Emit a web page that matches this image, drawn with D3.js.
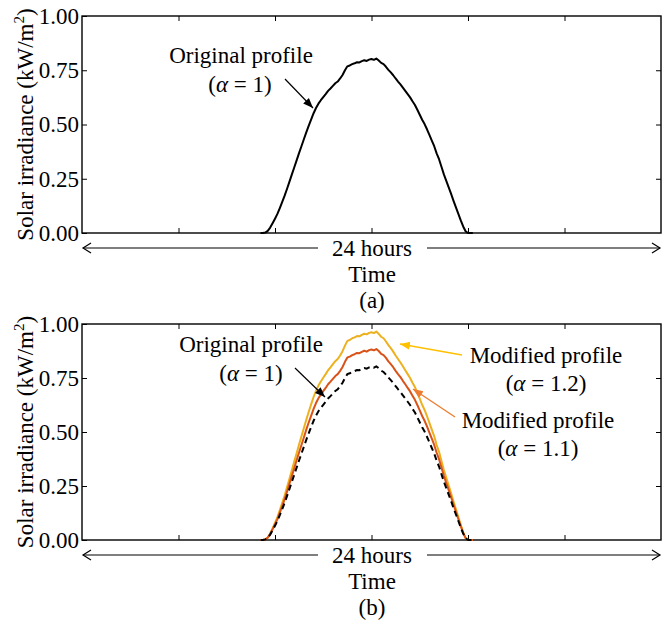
<!DOCTYPE html>
<html>
<head>
<meta charset="utf-8">
<script src="https://cdn.jsdelivr.net/npm/d3@7"></script>
<style>
  html, body { margin: 0; padding: 0; background: #fff; }
  svg text { font-family: "Liberation Serif", "Times New Roman", serif; fill: #000; }
</style>
</head>
<body>
<svg id="chart" width="667" height="620" font-family="Liberation Serif"></svg>
<script>
// ---------- DATA ----------
const hours = [7.4,7.5,7.6,7.7,7.8,7.9,8.0,8.1,8.2,8.3,8.4,8.5,8.6,8.7,8.8,8.9,9.0,9.1,9.2,9.3,
  9.4,9.5,9.6,9.7,9.8,9.9,10.0,10.1,10.2,10.3,10.4,10.5,10.6,10.7,10.8,10.9,11.0,11.1,11.2,11.3,
  11.4,11.5,11.6,11.7,11.8,11.9,12.0,12.1,12.2,12.3,12.4,12.5,12.6,12.7,12.8,12.9,13.0,13.1,13.2,13.3,
  13.4,13.5,13.6,13.7,13.8,13.9,14.0,14.1,14.2,14.3,14.4,14.5,14.6,14.7,14.8,14.9,15.0,15.1,15.2,15.3,
  15.4,15.5,15.6,15.7,15.8,15.9,16.0,16.1,16.2];

const original = [0,0,0.002,0.010,0.025,0.045,0.066,0.088,0.115,0.143,0.172,0.204,0.237,0.270,0.303,0.336,0.369,0.401,0.433,0.465,
  0.495,0.524,0.552,0.576,0.596,0.612,0.626,0.640,0.655,0.666,0.678,0.690,0.698,0.712,0.728,0.750,0.768,0.772,0.778,0.782,
  0.787,0.786,0.792,0.796,0.793,0.799,0.802,0.798,0.804,0.795,0.784,0.778,0.766,0.752,0.740,0.727,0.712,0.698,0.685,0.670,
  0.655,0.640,0.625,0.607,0.590,0.568,0.545,0.522,0.502,0.478,0.452,0.426,0.400,0.367,0.340,0.305,0.270,0.240,0.210,0.180,
  0.148,0.118,0.088,0.058,0.030,0.008,0,0,0];

const modified11 = [0,0,0.002,0.011,0.028,0.050,0.073,0.097,0.127,0.157,0.189,0.224,0.261,0.297,0.333,0.370,0.406,0.441,0.476,0.512,
  0.545,0.576,0.607,0.634,0.656,0.673,0.689,0.704,0.721,0.733,0.746,0.759,0.768,0.783,0.801,0.825,0.845,0.849,0.856,0.860,
  0.866,0.865,0.871,0.876,0.872,0.879,0.882,0.878,0.884,0.875,0.862,0.856,0.843,0.827,0.814,0.800,0.783,0.768,0.754,0.737,
  0.721,0.704,0.688,0.668,0.649,0.625,0.600,0.574,0.552,0.526,0.497,0.469,0.440,0.404,0.374,0.336,0.297,0.264,0.231,0.198,
  0.163,0.130,0.097,0.064,0.033,0.009,0,0,0];

const modified12 = [0,0,0.002,0.012,0.030,0.054,0.079,0.106,0.138,0.172,0.206,0.245,0.284,0.324,0.364,0.403,0.443,0.481,0.520,0.558,
  0.594,0.629,0.662,0.691,0.715,0.734,0.751,0.768,0.786,0.799,0.814,0.828,0.838,0.854,0.874,0.900,0.922,0.926,0.934,0.938,
  0.944,0.943,0.950,0.955,0.952,0.959,0.962,0.958,0.965,0.954,0.941,0.934,0.919,0.902,0.888,0.872,0.854,0.838,0.822,0.804,
  0.786,0.768,0.750,0.728,0.708,0.682,0.654,0.626,0.602,0.574,0.542,0.511,0.480,0.440,0.408,0.366,0.324,0.288,0.252,0.216,
  0.178,0.142,0.106,0.070,0.036,0.010,0,0,0];

const xTicks = [0,4,8,12,16,20,24];
const yTicks = [0,0.25,0.5,0.75,1.0];
const yTickLabels = ["0.00","0.25","0.50","0.75","1.00"];

// ---------- DRAW ----------
const svg = d3.select("#chart");
const FONT = 23;
const x = d3.scaleLinear().domain([0,24]).range([82,661]);

const defs = svg.append("defs");
function marker(id, color) {
  defs.append("marker").attr("id", id)
    .attr("viewBox","0 0 10 10").attr("refX",10).attr("refY",5)
    .attr("markerWidth",10).attr("markerHeight",10)
    .attr("markerUnits","userSpaceOnUse")
    .attr("orient","auto")
    .append("path").attr("d","M0,1 L10,5 L0,9 Z").attr("fill",color);
}
marker("ahBlack","#000");
marker("ahYellow","#FFC000");
marker("ahOrange","#ED7D31");

function panel(top, bottom, label) {
  const y = d3.scaleLinear().domain([0,1]).range([bottom, top]);
  const g = svg.append("g");

  // inward ticks
  g.append("g").attr("transform",`translate(0,${bottom})`)
    .call(d3.axisBottom(x).tickValues(xTicks.slice(1,-1)).tickSizeInner(-5).tickSizeOuter(0).tickFormat(""))
    .call(a => a.select(".domain").remove());
  g.append("g").attr("transform",`translate(0,${top})`)
    .call(d3.axisTop(x).tickValues(xTicks.slice(1,-1)).tickSizeInner(-5).tickSizeOuter(0).tickFormat(""))
    .call(a => a.select(".domain").remove());
  const yl = g.append("g").attr("transform",`translate(${x(0)},0)`)
    .call(d3.axisLeft(y).tickValues(yTicks).tickSizeInner(-5).tickSizeOuter(0).tickPadding(3)
      .tickFormat((d,i) => yTickLabels[i]))
    .call(a => a.select(".domain").remove());
  yl.attr("font-family","Liberation Serif");
  yl.selectAll("text").style("font-size", FONT + "px");
  g.append("g").attr("transform",`translate(${x(24)},0)`)
    .call(d3.axisRight(y).tickValues(yTicks.slice(1,-1)).tickSizeInner(-5).tickSizeOuter(0).tickFormat(""))
    .call(a => a.select(".domain").remove());
  g.selectAll(".tick line").attr("stroke","#000").attr("stroke-width",1);

  // frame
  g.append("rect").attr("x",x(0)).attr("y",top).attr("width",x(24)-x(0)).attr("height",bottom-top)
    .attr("fill","none").attr("stroke","#000").attr("stroke-width",1.4);

  // y label
  const cy = (top+bottom)/2;
  const yt = g.append("text").attr("transform",`translate(33,${cy}) rotate(-90)`)
    .attr("text-anchor","middle").style("font-size",FONT+"px");
  yt.append("tspan").text("Solar irradiance (kW/m");
  yt.append("tspan").attr("dy",-9).style("font-size","15px").text("2");
  yt.append("tspan").attr("dy",9).text(")");

  // 24 hours arrow
  const ay = bottom + 15;
  const ah = g.append("g").attr("stroke","#000").attr("stroke-width",1.2).attr("fill","none");
  ah.append("line").attr("x1",x(0)+1).attr("x2",318).attr("y1",ay).attr("y2",ay);
  ah.append("line").attr("x1",427).attr("x2",x(24)-1).attr("y1",ay).attr("y2",ay);
  ah.append("path").attr("d",`M${x(0)+9},${ay-5} L${x(0)+1},${ay} L${x(0)+9},${ay+5}`);
  ah.append("path").attr("d",`M${x(24)-9},${ay-5} L${x(24)-1},${ay} L${x(24)-9},${ay+5}`);
  g.append("text").attr("x",372).attr("y",ay+8).attr("text-anchor","middle").style("font-size",FONT+"px").text("24 hours");
  g.append("text").attr("x",372).attr("y",ay+34).attr("text-anchor","middle").style("font-size",FONT+"px").text("Time");
  g.append("text").attr("x",372).attr("y",ay+60).attr("text-anchor","middle").style("font-size",FONT+"px").text(label);
  return {g, y};
}

function alphaText(g, cx, by, val) {
  const t = g.append("text").attr("x",cx).attr("y",by).attr("text-anchor","middle").style("font-size",FONT+"px");
  t.append("tspan").text("(");
  t.append("tspan").style("font-style","italic").text("α");
  t.append("tspan").text(" = " + val + ")");
}

function line(y) {
  return d3.line().x((d,i) => x(hours[i])).y(d => y(d));
}

// Panel (a)
const pa = panel(16, 233, "(a)");
pa.g.append("path").datum(original).attr("d", line(pa.y))
  .attr("fill","none").attr("stroke","#000").attr("stroke-width",2).attr("stroke-linejoin","round");
pa.g.append("text").attr("x",241).attr("y",63).attr("text-anchor","middle").style("font-size",FONT+"px").text("Original profile");
alphaText(pa.g, 240, 92, "1");
pa.g.append("line").attr("x1",285).attr("y1",79).attr("x2",313).attr("y2",108)
  .attr("stroke","#000").attr("stroke-width",1.2).attr("marker-end","url(#ahBlack)");

// Panel (b)
const pb = panel(324, 540, "(b)");
pb.g.append("path").datum(modified12).attr("d", line(pb.y))
  .attr("fill","none").attr("stroke","#EDB120").attr("stroke-width",2).attr("stroke-linejoin","round");
pb.g.append("path").datum(modified11).attr("d", line(pb.y))
  .attr("fill","none").attr("stroke","#D95319").attr("stroke-width",2).attr("stroke-linejoin","round");
pb.g.append("path").datum(original).attr("d", line(pb.y))
  .attr("fill","none").attr("stroke","#000").attr("stroke-width",2).attr("stroke-dasharray","6,4");

pb.g.append("text").attr("x",251).attr("y",352).attr("text-anchor","middle").style("font-size",FONT+"px").text("Original profile");
alphaText(pb.g, 251, 381, "1");
pb.g.append("line").attr("x1",295).attr("y1",368).attr("x2",325).attr("y2",397)
  .attr("stroke","#000").attr("stroke-width",1.2).attr("marker-end","url(#ahBlack)");

pb.g.append("text").attr("x",546).attr("y",363).attr("text-anchor","middle").style("font-size",FONT+"px").text("Modified profile");
alphaText(pb.g, 546, 391, "1.2");
pb.g.append("line").attr("x1",462).attr("y1",355).attr("x2",400).attr("y2",344)
  .attr("stroke","#FFC000").attr("stroke-width",1.4).attr("marker-end","url(#ahYellow)");

pb.g.append("text").attr("x",538).attr("y",428).attr("text-anchor","middle").style("font-size",FONT+"px").text("Modified profile");
alphaText(pb.g, 538, 456, "1.1");
pb.g.append("line").attr("x1",455).attr("y1",417).attr("x2",413).attr("y2",389)
  .attr("stroke","#ED7D31").attr("stroke-width",1.4).attr("marker-end","url(#ahOrange)");
</script>
</body>
</html>
